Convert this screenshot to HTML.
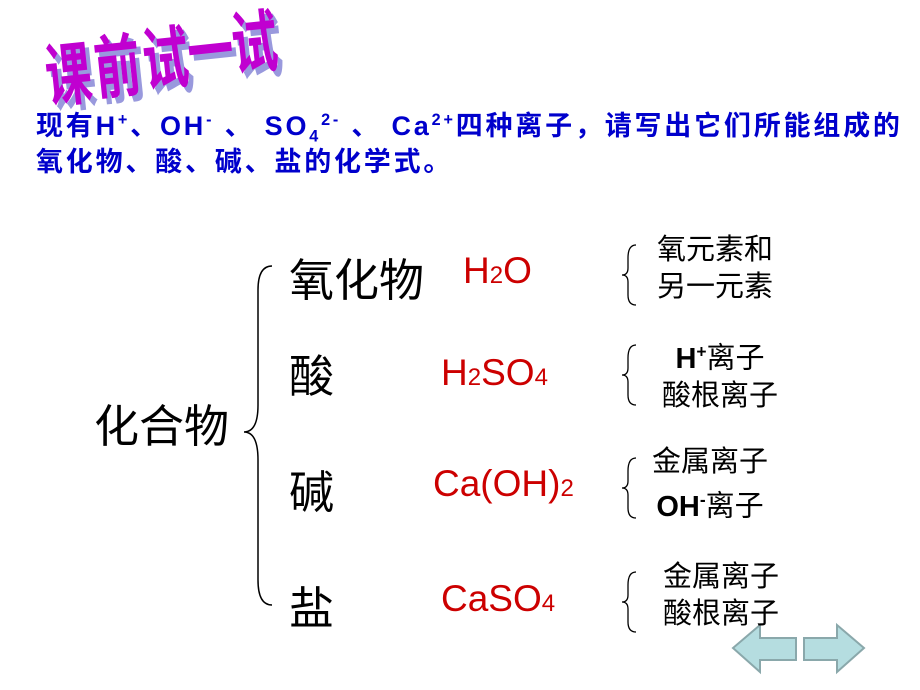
<!DOCTYPE html>
<html><head><meta charset="utf-8"><style>
body{margin:0;width:920px;height:690px;background:#fff;position:relative;overflow:hidden;font-family:"Liberation Sans","Noto Sans CJK SC",sans-serif}
.a{position:absolute;white-space:nowrap}
.t{color:#0000cc;font-weight:bold;font-size:27px;letter-spacing:2.8px}
.b{font-size:45px;color:#000}
.r{font-size:37px;color:#cc0000}
.r span{font-size:24px}
.s{font-size:29px;color:#000;line-height:37px;text-align:center}
sub,sup{font-size:60%}
.w{font-size:46px;font-weight:bold;color:#c000d0;text-shadow:4px 4px 0 #9999dd;font-family:"Noto Sans CJK SC",sans-serif;transform-origin:0 0}
</style></head><body>
<div class="a w" style="left:40px;top:24px;transform:rotate(-6deg) scaleY(1.5)">课</div>
<div class="a w" style="left:89px;top:16px;transform:rotate(-6deg) scaleY(1.5)">前</div>
<div class="a w" style="left:137px;top:8px;transform:rotate(-6deg) scaleY(1.5)">试</div>
<div class="a w" style="left:182px;top:0px;transform:rotate(-6deg) scaleY(1.5)">一</div>
<div class="a w" style="left:226px;top:-8px;transform:rotate(-6deg) scaleY(1.5)">试</div>
<div class="a t" style="left:36px;top:104px">现有H<sup>+</sup>、OH<sup>-</sup> 、 SO<sub>4</sub><sup>2-</sup> 、 Ca<sup>2+</sup>四种离子，请写出它们所能组成的</div>
<div class="a t" style="left:36px;top:140px">氧化物、酸、碱、盐的化学式。</div>
<svg class="a" style="left:0;top:0" width="920" height="690">
<path d="M272 266 Q258 266 258 290 L258 405 Q258 432 244 432 Q258 432 258 460 L258 580 Q258 605 272 605" fill="none" stroke="#000" stroke-width="1.5"/>
<g fill="none" stroke="#000" stroke-width="1.3">
<path d="M636 245 Q628 245 628 258 L628 268 Q628 275 622 275 Q628 275 628 282 L628 295 Q628 305 636 305"/>
<path d="M636 345 Q628 345 628 358 L628 368 Q628 375 622 375 Q628 375 628 382 L628 395 Q628 405 636 405"/>
<path d="M636 458 Q628 458 628 471 L628 481 Q628 488 622 488 Q628 488 628 495 L628 508 Q628 518 636 518"/>
<path d="M636 572 Q628 572 628 585 L628 595 Q628 602 622 602 Q628 602 628 609 L628 622 Q628 632 636 632"/>
</g>
<path d="M733 648 L760 625 L760 638 L796 638 L796 660 L760 660 L760 672 Z" fill="#b5dde0" stroke="#8aa8ab" stroke-width="2"/>
<path d="M864 648 L837 625 L837 638 L804 638 L804 660 L837 660 L837 672 Z" fill="#b5dde0" stroke="#8aa8ab" stroke-width="2"/>
</svg>
<div class="a b" style="left:94px;top:390px">化合物</div>
<div class="a b" style="left:289px;top:244px">氧化物</div>
<div class="a b" style="left:289px;top:340px">酸</div>
<div class="a b" style="left:289px;top:456px">碱</div>
<div class="a b" style="left:289px;top:572px">盐</div>
<div class="a r" style="left:463px;top:250px">H<span>2</span>O</div>
<div class="a r" style="left:441px;top:352px">H<span>2</span>SO<span>4</span></div>
<div class="a r" style="left:433px;top:463px">Ca(OH)<span>2</span></div>
<div class="a r" style="left:441px;top:578px">CaSO<span>4</span></div>
<div class="a s" style="left:657px;top:232px">氧元素和<br>另一元素</div>
<div class="a s" style="left:662px;top:333px"><b>H<sup>+</sup></b>离子<br>酸根离子</div>
<div class="a s" style="left:652px;top:444px">金属离子<br><b>OH<sup>-</sup></b>离子</div>
<div class="a s" style="left:663px;top:559px">金属离子<br>酸根离子</div>
</body></html>
